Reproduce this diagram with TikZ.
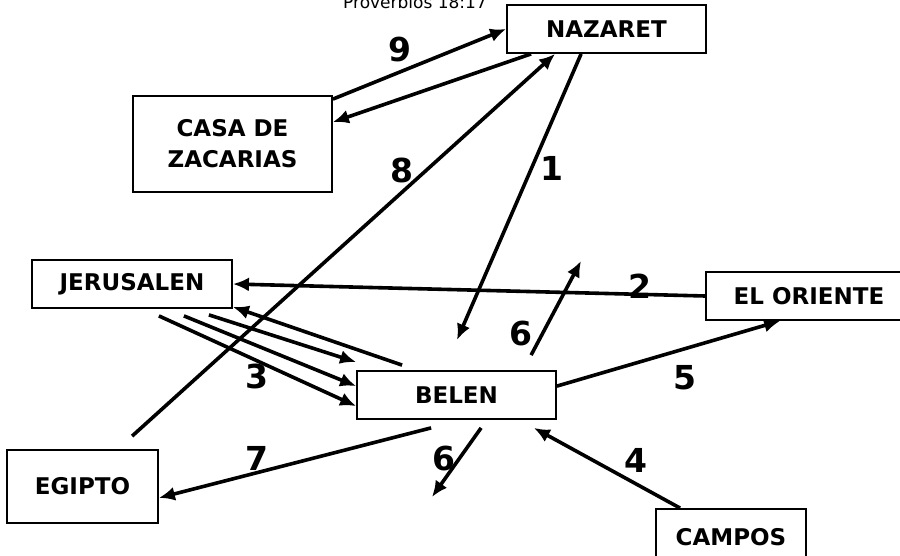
\documentclass[tikz,border=0pt]{standalone}
\usepackage{fontspec}
\setmainfont{DejaVu Sans}
\usepackage{tikz}
\usetikzlibrary{shapes,arrows.meta}
\tikzstyle{place} = [rectangle, draw, line width=1.8pt, align=center,
    font=\bfseries\fontsize{23}{31}\selectfont, inner sep=0pt]
\tikzstyle{num} = [font=\bfseries\fontsize{33}{33}\selectfont, inner sep=0pt]
\tikzstyle{line} = [draw, line width=3.6pt, -{Latex[length=16pt,width=14pt]}]
\begin{document}
\begin{tikzpicture}[x=1pt, y=-1pt]
    \useasboundingbox (0,0) rectangle (900,556);
    % Place nodes
    \node [anchor=base, font=\fontsize{17}{17}\selectfont] (verse) at (415,9) {Proverbios 18:17};
    \node [place, minimum width=199pt, minimum height=48pt] (nazaret) at (606.5,29) {NAZARET};
    \node [place, minimum width=199pt, minimum height=96pt] (casa) at (232.5,144) {CASA DE\\ZACARIAS};
    \node [place, minimum width=200pt, minimum height=48pt] (jerusalen) at (132,284) {JERUSALEN};
    \node [place, minimum width=206pt, minimum height=48pt] (oriente) at (809,296) {EL ORIENTE};
    \node [place, minimum width=199pt, minimum height=48pt] (belen) at (456.5,395) {BELEN};
    \node [place, minimum width=151pt, minimum height=73pt] (egipto) at (82.5,486.5) {EGIPTO};
    \node [place, minimum width=150pt, minimum height=56pt] (campos) at (731,537) {CAMPOS};
    \coordinate (up6) at (581,261);
    \coordinate (down6) at (432,497);
    \coordinate (end1) at (457,340);
    % Numbers
    \node [num] (n9) at (400,50) {9};
    \node [num] (n8) at (402,170) {8};
    \node [num] (n1) at (552,168) {1};
    \node [num] (n2) at (640,286) {2};
    \node [num] (n6a) at (521,334) {6};
    \node [num] (n3) at (257,376) {3};
    \node [num] (n5) at (685,378) {5};
    \node [num] (n7) at (257,458) {7};
    \node [num] (n6b) at (444,459) {6};
    \node [num] (n4) at (636,460) {4};
    % Draw edges
    \path [line] ([yshift=-4pt]casa.north east) -- (nazaret.west);
    \path [line] ([xshift=25pt]nazaret.south west) -- ([yshift=-27pt]casa.north east);
    \path [line] ([xshift=126pt,yshift=13pt]egipto.north west) -- ([xshift=49pt]nazaret.south west);
    \path [line] ([xshift=75pt]nazaret.south west) -- (end1);
    \path [line] (oriente.west) -- (jerusalen.east);
    \path [line] ([xshift=46pt,yshift=5pt]belen.north west) -- ([yshift=2pt]jerusalen.south east);
    \path [line] ([xshift=-24pt,yshift=-6pt]jerusalen.south east) -- ([yshift=8pt]belen.north west);
    \path [line] ([xshift=-49pt,yshift=-7pt]jerusalen.south east) -- ([yshift=-16pt]belen.north west);
    \path [line] ([xshift=-74pt,yshift=-7pt]jerusalen.south east) -- ([yshift=-36pt]belen.north west);
    \path [line] ([xshift=175pt,yshift=15pt]belen.north west) -- (up6);
    \path [line] ([yshift=-16pt]belen.north east) -- ([xshift=75pt]oriente.south west);
    \path [line] ([xshift=75pt,yshift=-8pt]belen.south west) -- ([yshift=26pt]egipto.south east);
    \path [line] ([xshift=125pt,yshift=-8pt]belen.south west) -- (down6);
    \path [line] ([xshift=25pt]campos.north west) -- ([xshift=-23pt,yshift=-8pt]belen.south east);
\end{tikzpicture}
\end{document}
